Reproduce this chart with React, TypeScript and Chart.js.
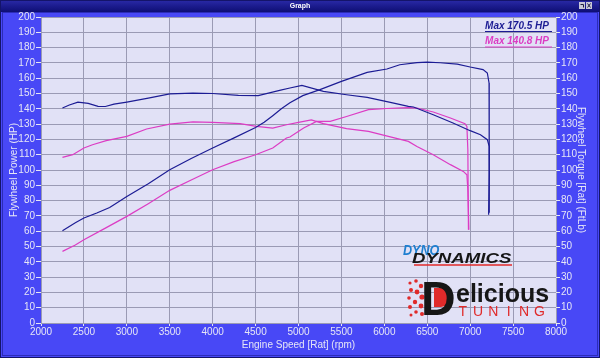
import React, { useEffect, useRef } from 'react';
import { Chart, registerables } from 'chart.js';

Chart.register(...registerables);

// ---- data ----
const bluePowerRpm = [2250, 2400, 2500, 2650, 2800, 3000, 3250, 3500, 3750, 4000, 4250, 4500, 4600, 4700, 4800, 4900, 5050, 5250, 5500, 5800, 6030, 6180, 6380, 6500, 6650, 6850, 7000, 7150, 7200, 7220, 7222, 7215];
const bluePowerHp = [60.3, 65.5, 68.6, 71.9, 75.5, 82.7, 91, 100.2, 107.5, 114.4, 121, 127.8, 131.2, 135.5, 140, 144, 148.6, 152.5, 157.9, 163.8, 166, 168.8, 170.2, 170.5, 170.1, 169.2, 167.3, 165.6, 163.4, 156.9, 98, 70.8];

const blueTorqueRpm = [2250, 2330, 2430, 2550, 2665, 2750, 2850, 3000, 3250, 3500, 3770, 4000, 4300, 4530, 4780, 4900, 5040, 5290, 5560, 5800, 6070, 6280, 6340, 6570, 6800, 7000, 7120, 7200, 7222, 7224, 7220];
const blueTorqueFt = [140.5, 142.5, 144.4, 143.5, 141.6, 141.5, 143, 144.4, 147, 149.7, 150.3, 150, 148.8, 148.6, 152, 153.6, 155.3, 151.4, 149.2, 147.5, 144.2, 141.6, 141.2, 136.1, 130.7, 125.7, 123.1, 119.8, 115.4, 95, 72];

const pinkPowerRpm = [2250, 2400, 2500, 2750, 3000, 3250, 3500, 3750, 4000, 4250, 4500, 4700, 4860, 4900, 5060, 5210, 5370, 5560, 5815, 6030, 6280, 6380, 6570, 6770, 6940, 6962, 6973, 6980];
const pinkPowerHp = [46.8, 51, 54.4, 62, 69.7, 78, 86.7, 93.5, 100.2, 105.5, 110, 114.4, 120.9, 121.6, 127.5, 131.8, 131.8, 135, 139.4, 140.2, 140.8, 140.5, 137.9, 134, 130.3, 128.5, 113.3, 61];

const pinkTorqueRpm = [2250, 2370, 2500, 2600, 2760, 3000, 3230, 3500, 3770, 4000, 4320, 4510, 4700, 4860, 5000, 5150, 5290, 5560, 5815, 6070, 6280, 6380, 6570, 6770, 6920, 6962, 6973, 6985];
const pinkTorqueFt = [108.2, 110, 114.4, 116.5, 119.2, 122, 126.8, 130, 131.4, 131.1, 130.3, 128.5, 127.4, 129.6, 131.1, 132.8, 130.3, 127, 125.2, 121.6, 118.7, 115.4, 110, 103.5, 99.1, 96.9, 87.1, 61];

const legendTexts = ['Max 170.5 HP', 'Max 140.8 HP'];
const xTitle = 'Engine Speed [Rat] (rpm)';
const yTitle = 'Flywheel Power (HP)';
const y2Title = 'Flywheel Torque [Rat] (FtLb)';

// ---- styles ----
const FONT = '"Liberation Sans", Arial, sans-serif';
const BLUE = '#1c1c94';
const PINK = '#dc3cc4';
const TICK = '#e6e6f6';
const GRID = '#9a9ab4';
const PLOT_BG = '#e1e1f6';
const WIN_BG = '#4848f6';

const toPts = (xs: number[], ys: number[]) => xs.map((x, i) => ({ x, y: ys[i] }));
const plain = (v: any) => String(v);

const chromePlugin = {
  id: 'chrome',
  beforeDraw(chart: any) {
    const { ctx, width, height, chartArea: a } = chart;
    ctx.save();
    ctx.fillStyle = WIN_BG;
    ctx.fillRect(0, 0, width, height);
    const g = ctx.createLinearGradient(0, 0, 0, 12);
    g.addColorStop(0, '#2a2aa8');
    g.addColorStop(1, '#0e0e74');
    ctx.fillStyle = g;
    ctx.fillRect(0, 0, width, 12);
    ctx.fillStyle = '#ffffff';
    ctx.font = 'bold 7px ' + FONT;
    ctx.textAlign = 'center';
    ctx.textBaseline = 'middle';
    ctx.fillText('Graph', width / 2, 6.5);
    // title-bar buttons
    ctx.fillStyle = '#c8c8d8';
    ctx.fillRect(579, 2, 6, 7);
    ctx.fillRect(586, 2, 6, 7);
    ctx.strokeStyle = '#202040';
    ctx.lineWidth = 1;
    ctx.beginPath();
    ctx.moveTo(587.5, 3.5); ctx.lineTo(590.5, 7.5);
    ctx.moveTo(590.5, 3.5); ctx.lineTo(587.5, 7.5);
    ctx.moveTo(580.5, 4.5); ctx.lineTo(583.5, 4.5); ctx.lineTo(583.5, 7.5);
    ctx.stroke();
    // window frame
    ctx.strokeStyle = '#14146a';
    ctx.strokeRect(0.5, 0.5, width - 1, height - 1);
    ctx.strokeStyle = '#2c2cb8';
    ctx.strokeRect(2.5, 12.5, width - 5, height - 15);
    // plot background
    ctx.fillStyle = PLOT_BG;
    ctx.fillRect(a.left, a.top, a.right - a.left, a.bottom - a.top);
    ctx.restore();
  },
  afterDraw(chart: any) {
    const { ctx } = chart;
    ctx.save();
    // legend
    const colors = [BLUE, PINK];
    ctx.font = 'italic bold 10px ' + FONT;
    ctx.textAlign = 'right';
    ctx.textBaseline = 'middle';
    legendTexts.forEach((t, i) => {
      const y = 26 + i * 15.5;
      ctx.fillStyle = colors[i];
      ctx.fillText(t, 549, y);
      ctx.strokeStyle = colors[i];
      ctx.lineWidth = 1;
      ctx.beginPath();
      ctx.moveTo(485, y + 5.5);
      ctx.lineTo(552, y + 5.5);
      ctx.stroke();
    });

    // DynoDynamics logo
    ctx.textAlign = 'left';
    ctx.textBaseline = 'alphabetic';
    ctx.save();
    ctx.translate(403, 255);
    ctx.scale(0.9, 1);
    ctx.font = 'italic 900 14px ' + FONT;
    ctx.fillStyle = '#1f7fd0';
    ctx.fillText('DYNO', 0, 0);
    ctx.restore();
    ctx.save();
    ctx.translate(412, 263);
    ctx.scale(1.33, 1);
    ctx.font = 'italic 900 14px ' + FONT;
    ctx.fillStyle = '#151515';
    ctx.fillText('DYNAMICS', 0, 0);
    ctx.restore();
    ctx.strokeStyle = '#e02828';
    ctx.lineWidth = 1.5;
    ctx.beginPath();
    ctx.moveTo(414, 265);
    ctx.lineTo(512, 265);
    ctx.stroke();

    // Delicious Tuning logo
    ctx.fillStyle = '#e02a2a';
    const dots: [number, number, number][] = [
      [410, 283, 1.6], [416, 281, 1.8], [421, 286, 2.2], [411, 290, 2.0], [417, 292, 2.4],
      [409, 298, 1.8], [422, 297, 2.6], [415, 302, 2.2], [410, 307, 2.0], [421, 306, 2.4],
      [416, 312, 1.8], [411, 315, 1.5], [422, 314, 2.0]
    ];
    dots.forEach(([x, y, r]) => {
      ctx.beginPath();
      ctx.arc(x, y, r, 0, Math.PI * 2);
      ctx.fill();
    });
    // red counter of the D
    ctx.beginPath();
    ctx.moveTo(434, 288);
    ctx.lineTo(441, 288);
    ctx.arc(441, 297.5, 9.5, -Math.PI / 2, Math.PI / 2);
    ctx.lineTo(434, 307);
    ctx.closePath();
    ctx.fill();
    ctx.fillStyle = '#161616';
    ctx.font = 'bold 48px ' + FONT;
    ctx.fillText('D', 421, 315);
    ctx.font = 'bold 25px ' + FONT;
    ctx.fillText('elicious', 456, 302);
    ctx.fillStyle = '#e02a2a';
    ctx.font = '500 14px ' + FONT;
    ctx.textAlign = 'center';
    const tuning = 'TUNING';
    for (let i = 0; i < tuning.length; i++) {
      ctx.fillText(tuning[i], 455 + (i + 0.5) * (92 / tuning.length), 315.5);
    }
    ctx.restore();
  }
};

export default function App() {
  const ref = useRef<HTMLCanvasElement | null>(null);
  useEffect(() => {
    document.body.style.margin = '0';
    if (!ref.current) return;
    const tickFont = { family: FONT, size: 10 };
    const chart = new Chart(ref.current, {
      type: 'line',
      data: {
        datasets: [
          { label: 'Power 1', data: toPts(bluePowerRpm, bluePowerHp), borderColor: BLUE, yAxisID: 'y' },
          { label: 'Torque 1', data: toPts(blueTorqueRpm, blueTorqueFt), borderColor: BLUE, yAxisID: 'y2' },
          { label: 'Power 2', data: toPts(pinkPowerRpm, pinkPowerHp), borderColor: PINK, yAxisID: 'y' },
          { label: 'Torque 2', data: toPts(pinkTorqueRpm, pinkTorqueFt), borderColor: PINK, yAxisID: 'y2' }
        ].map((d) => ({ ...d, borderWidth: 1.2, pointRadius: 0, tension: 0, fill: false }))
      },
      options: {
        responsive: false,
        animation: false,
        events: [],
        layout: { padding: { top: 17, left: 0, right: 0, bottom: 0 } },
        plugins: { legend: { display: false }, tooltip: { enabled: false } },
        scales: {
          x: {
            type: 'linear',
            min: 2000,
            max: 8000,
            ticks: { stepSize: 500, color: TICK, font: tickFont, padding: 0, maxRotation: 0, autoSkip: false, callback: plain },
            grid: { color: GRID, tickColor: TICK, tickLength: 3 },
            border: { display: false },
            title: { display: true, text: xTitle, color: TICK, font: tickFont, padding: { top: 0, bottom: 7 } },
            afterFit: (s: any) => { s.height = 35; }
          },
          y: {
            type: 'linear',
            position: 'left',
            min: 0,
            max: 200,
            ticks: { stepSize: 10, color: TICK, font: tickFont, padding: 1, callback: plain },
            grid: { color: GRID, tickColor: TICK, tickLength: 5 },
            border: { display: false },
            title: { display: true, text: yTitle, color: TICK, font: tickFont, padding: { top: 8, bottom: 0 } },
            afterFit: (s: any) => { s.width = 41; }
          },
          y2: {
            type: 'linear',
            position: 'right',
            min: 0,
            max: 200,
            ticks: { stepSize: 10, color: TICK, font: tickFont, padding: 1, callback: plain },
            grid: { drawOnChartArea: false, color: GRID, tickColor: TICK, tickLength: 4 },
            border: { display: false },
            title: { display: true, text: y2Title, color: TICK, font: tickFont, padding: { top: 13, bottom: 0 } },
            afterFit: (s: any) => { s.width = 44; }
          }
        }
      } as any,
      plugins: [chromePlugin]
    });
    return () => chart.destroy();
  }, []);
  return (
    <div style={{ width: 600, height: 358 }}>
      <canvas ref={ref} width={600} height={358} style={{ display: 'block' }} />
    </div>
  );
}
